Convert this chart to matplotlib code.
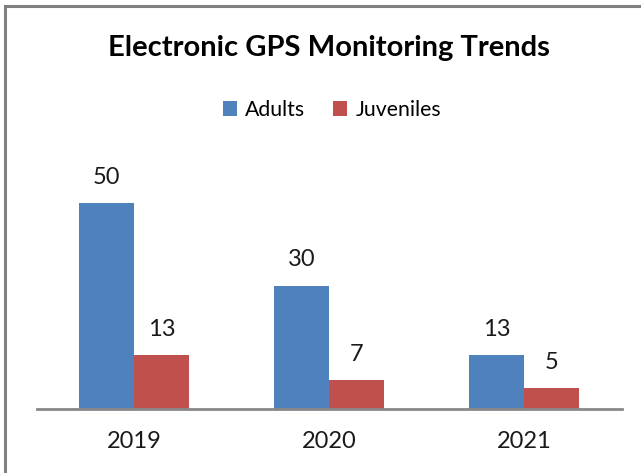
import matplotlib.pyplot as plt
import numpy as np
from matplotlib.patches import Rectangle

# data
years = ['2019', '2020', '2021']
adults = [50, 30, 13]
juveniles = [13, 7, 5]

blue = '#4F81BD'
red = '#C0504D'

plt.rcParams['font.family'] = ['Lato', 'DejaVu Sans']

fig = plt.figure(figsize=(6.41, 4.73), dpi=100)
ax = fig.add_axes([36.5 / 641, 64 / 473, 585 / 641, 247 / 473])

x = np.arange(len(years))
w = 0.282
b1 = ax.bar(x - w / 2, adults, w, color=blue, label='Adults')
b2 = ax.bar(x + w / 2, juveniles, w, color=red, label='Juveniles')

for bars in (b1, b2):
    for r in bars:
        ax.annotate(str(int(r.get_height())),
                    (r.get_x() + r.get_width() / 2, r.get_height()),
                    xytext=(0, 11), textcoords='offset points',
                    ha='center', va='bottom', fontsize=17, color='#1a1a1a')

ax.set_xlim(-0.5, 2.5)
ax.set_ylim(0, 60)
ax.set_yticks([])
ax.set_xticks(x)
ax.set_xticklabels(years, fontsize=17, color='#1a1a1a')
ax.tick_params(axis='x', length=0, pad=16)
for s in ['top', 'right', 'left']:
    ax.spines[s].set_visible(False)
ax.spines['bottom'].set_color('#888888')
ax.spines['bottom'].set_linewidth(2)

fig.text(329, 473 - 48, 'Electronic GPS Monitoring Trends', transform=None,
         ha='center', va='center', fontsize=21, fontweight='bold', color='black')

leg = fig.legend(handles=[b1, b2], labels=['Adults', 'Juveniles'],
                 loc='center', bbox_to_anchor=(332 / 641, 1 - 110 / 473),
                 ncol=2, frameon=False, fontsize=15.3, handlelength=0.65,
                 handleheight=0.65, handletextpad=0.4, columnspacing=1.3)

# chart border
fig.patches.append(Rectangle((5, -20), 700, 473 - 5 + 20 - 1, transform=None,
                             fill=False, edgecolor='#808080', linewidth=2.2))

fig.savefig('out.png', dpi=100)
